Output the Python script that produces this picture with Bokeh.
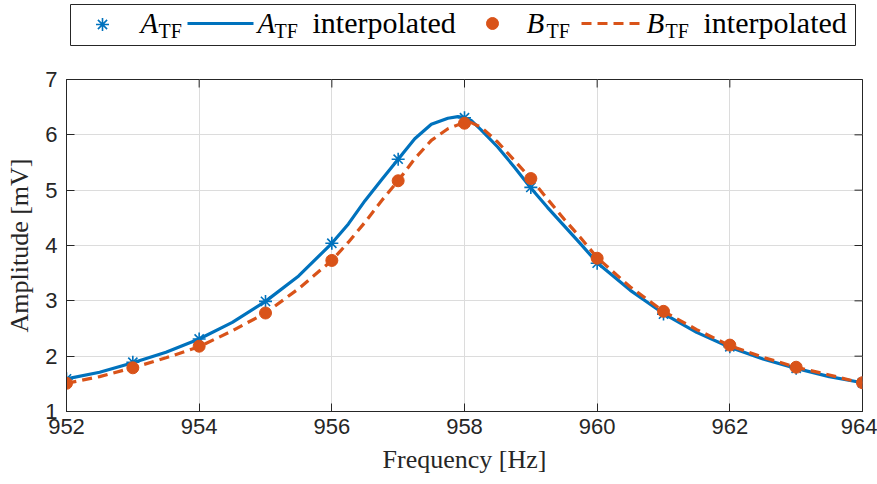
import math
from bokeh.plotting import figure
from bokeh.models import FixedTicker, Range1d
from bokeh.layouts import column
from bokeh.embed import file_html
from bokeh.resources import INLINE
from bokeh.core.properties import value

# ---- data ----
freq = [952, 953, 954, 955, 956, 957, 958, 959, 960, 961, 962, 963, 964]
A_tf = [1.59, 1.89, 2.31, 2.99, 4.04, 5.56, 6.31, 5.05, 3.68, 2.76, 2.17, 1.78, 1.52]
B_tf = [1.51, 1.79, 2.18, 2.78, 3.73, 5.17, 6.21, 5.21, 3.77, 2.81, 2.20, 1.80, 1.52]

fine_freq = [952, 952.5, 953, 953.5, 954, 954.5, 955, 955.5, 956, 956.25, 956.5, 956.75,
             957, 957.25, 957.5, 957.75, 957.9, 958, 958.1, 958.25, 958.5, 958.75, 959,
             959.25, 959.5, 959.75, 960, 960.5, 961, 961.5, 962, 962.5, 963, 963.5, 964]
A_interp = [1.59, 1.71, 1.88, 2.07, 2.31, 2.61, 2.99, 3.45, 4.04, 4.39, 4.81, 5.19,
            5.56, 5.93, 6.19, 6.30, 6.33, 6.31, 6.26, 6.09, 5.78, 5.42, 5.04,
            4.69, 4.36, 4.03, 3.69, 3.19, 2.77, 2.43, 2.16, 1.95, 1.78, 1.63, 1.52]
B_interp = [1.51, 1.63, 1.79, 1.97, 2.17, 2.46, 2.78, 3.22, 3.73, 4.06, 4.42, 4.81,
            5.17, 5.57, 5.90, 6.11, 6.18, 6.21, 6.22, 6.14, 5.87, 5.54, 5.21,
            4.84, 4.48, 4.14, 3.78, 3.25, 2.81, 2.48, 2.19, 1.98, 1.80, 1.66, 1.51]

x_ticks = [952, 954, 956, 958, 960, 962, 964]
y_ticks = [1, 2, 3, 4, 5, 6, 7]

BLUE = "#0072BD"
ORANGE = "#D95319"
AX = "#262626"

# ---- main plot ----
p = figure(width=877, height=438, x_range=Range1d(952, 964), y_range=Range1d(1, 7),
           output_backend="svg", toolbar_location=None,
           min_border_left=66, min_border_right=15, min_border_top=33, min_border_bottom=73)
p.outline_line_color = AX
p.outline_line_width = 1

p.xaxis.ticker = FixedTicker(ticks=x_ticks)
p.yaxis.ticker = FixedTicker(ticks=y_ticks)
for ax in (p.xaxis[0], p.yaxis[0]):
    ax.axis_line_color = AX
    ax.major_tick_line_color = AX
    ax.major_tick_in = 8
    ax.major_tick_out = 0
    ax.minor_tick_line_color = None
    ax.major_label_text_font = "Liberation Sans"
    ax.major_label_text_font_size = "22px"
    ax.major_label_text_color = AX
    ax.axis_label_text_font = "Liberation Serif"
    ax.axis_label_text_font_style = "normal"
    ax.axis_label_text_font_size = "26px"
    ax.axis_label_text_color = AX
p.xaxis.axis_label = "Frequency [Hz]"
p.yaxis.axis_label = "Amplitude [mV]"
p.xaxis.major_label_standoff = 7
p.yaxis.major_label_standoff = 9
p.xaxis.axis_label_standoff = 8
p.yaxis.axis_label_standoff = 8

p.grid.grid_line_color = "#dcdcdc"
p.grid.grid_line_width = 1
p.xgrid.ticker = FixedTicker(ticks=x_ticks)
p.ygrid.ticker = FixedTicker(ticks=y_ticks)

# inward ticks on the top and right edges of the box (clipped to the frame)
p.scatter(x_ticks, [y_ticks[-1]] * len(x_ticks), marker="dash", angle=math.pi / 2,
          size=16, line_color=AX, line_width=1)
p.scatter([x_ticks[-1]] * len(y_ticks), y_ticks, marker="dash", size=16,
          line_color=AX, line_width=1)

p.scatter(freq, A_tf, marker="asterisk", size=13, line_color=BLUE, line_width=1.6)
p.line(fine_freq, A_interp, line_color=BLUE, line_width=3.2)
p.scatter(freq, B_tf, marker="circle", size=12, fill_color=ORANGE, line_color=ORANGE)
p.line(fine_freq, B_interp, line_color=ORANGE, line_width=3.2, line_dash="10 6")

# ---- legend strip (its frame aligns with the main frame: x in page pixels) ----
lg = figure(width=877, height=46, x_range=Range1d(66, 862), y_range=Range1d(0, 46),
            output_backend="svg", toolbar_location=None, min_border=0,
            min_border_left=66, min_border_right=15,
            x_axis_location=None, y_axis_location=None)
lg.grid.visible = False
lg.outline_line_color = None
lg.quad(left=[70], right=[855], bottom=[1], top=[42], fill_color=None,
        line_color=AX, line_width=1)

serif = value("Liberation Serif")
lg.scatter([102], [22], marker="asterisk", size=13, line_color=BLUE, line_width=1.6)
lg.line([187, 253], [23, 23], line_color=BLUE, line_width=3.2)
lg.scatter([492], [23], marker="circle", size=12, fill_color=ORANGE, line_color=ORANGE)
lg.line([581, 644], [23, 23], line_color=ORANGE, line_width=3.2, line_dash="10 6")

lg.text(x=[140, 257, 526, 646], y=[24, 24, 24, 24], text=["A", "A", "B", "B"],
        text_font=serif, text_font_style="italic", text_font_size="29px",
        text_baseline="middle", text_color="black")
lg.text(x=[158, 274, 546, 665], y=[16, 16, 16, 16], text=["TF", "TF", "TF", "TF"],
        text_font=serif, text_font_size="20px", text_baseline="middle",
        text_color="black")
lg.text(x=[312, 703], y=[24, 24], text=["interpolated", "interpolated"],
        text_font=serif, text_font_size="30px", text_baseline="middle",
        text_color="black")

layout = column(lg, p, spacing=0)
open("out.html", "w").write(file_html(layout, INLINE))
